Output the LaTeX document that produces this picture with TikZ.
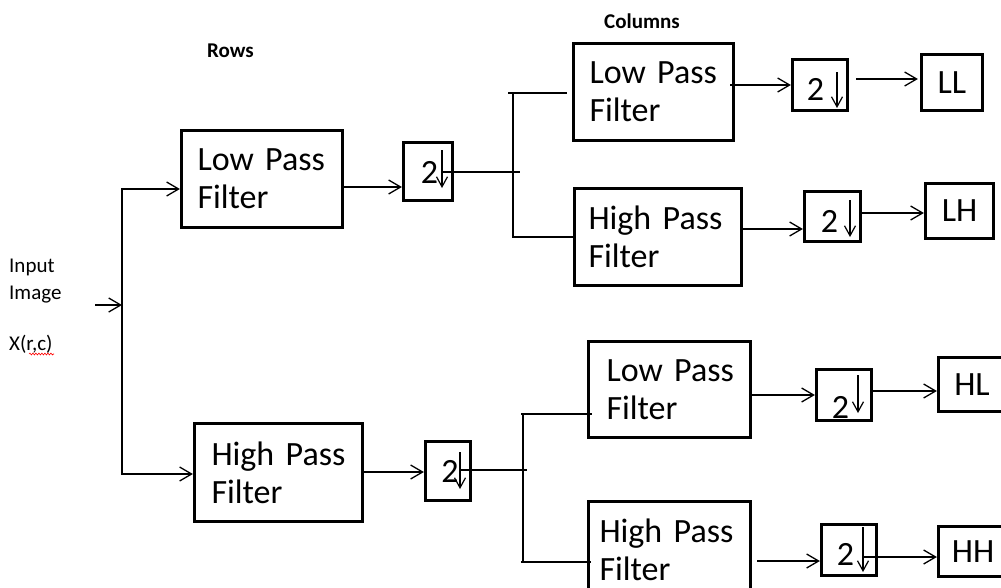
\documentclass[tikz,border=0pt]{standalone}
\usepackage{fontspec}
\setmainfont{Carlito}
\usetikzlibrary{arrows.meta,decorations.pathmorphing}
\begin{document}
\begin{tikzpicture}[x=1pt,y=-1pt,
  box/.style={draw, line width=3.2pt, font=\fontsize{34}{38}\selectfont, align=left, inner ysep=2pt, anchor=center},
  dsbox/.style={draw, line width=3.2pt, inner sep=0pt},
  outbox/.style={draw, line width=3.2pt, inner sep=0pt, font=\fontsize{34}{38}\selectfont},
  digit/.style={font=\fontsize{34}{38}\selectfont, inner sep=0pt, anchor=base},
  conn/.style={line width=1.3pt},
  arr/.style={conn, -{Straight Barb[length=12pt,width=14pt]}},
  darr/.style={line width=1.2pt, -{Straight Barb[length=10pt,width=11pt]}},
  lbl/.style={font=\fontsize{21}{25}\selectfont, inner sep=0pt, anchor=base west},
  head/.style={font=\bfseries\fontsize{21}{25}\selectfont, inner sep=0pt, anchor=base west}]
\useasboundingbox (0,0) rectangle (1001,587);
\fill[white] (0,0) rectangle (1001,587);
\clip (0,0) rectangle (1001,587);

% headings and input labels
\node[head] (rows) at (207,57) {Rows};
\node[head] (cols) at (604,28) {Columns};
\node[lbl] (in1) at (9,272) {Input};
\node[lbl] (in2) at (9,299) {Image};
\node[lbl] (in3) at (9,350) {X(r,c)};
\draw[red, line width=0.6pt, decorate, decoration={snake, amplitude=0.9pt, segment length=3pt}] (29,354) -- (54,354);

% row filters
\node[box, inner xsep=16pt, text width=129pt, minimum height=97pt] (rlpf) at (262,179) {Low~Pass\\Filter};
\node[box, inner xsep=17pt, text width=134pt, minimum height=98pt] (rhpf) at (278.5,472.5) {High~Pass\\Filter};

% row downsamplers
\node[dsbox, minimum width=49pt, minimum height=58pt] (rd1) at (428,171.5) {};
\node[dsbox, minimum width=45pt, minimum height=59pt] (rd2) at (448,471) {};
\node[digit] (rd1t) at (429.5,183) {2};
\node[digit] (rd2t) at (450,482) {2};
\coordinate (rd1a) at (442,150); \coordinate (rd1b) at (442,188);
\coordinate (rd2a) at (460,452); \coordinate (rd2b) at (460,489);
\draw[darr] (rd1a) -- (rd1b);
\draw[darr] (rd2a) -- (rd2b);

% column filters
\node[box, inner xsep=16pt, text width=128pt, minimum height=97pt] (clpf1) at (653.5,92) {Low~Pass\\Filter};
\node[box, inner xsep=14pt, text width=139pt, minimum height=97pt] (chpf1) at (658,237) {High~Pass\\Filter};
\node[box, inner xsep=18pt, text width=126pt, minimum height=96pt] (clpf2) at (669.5,389.5) {Low~Pass\\Filter};
\node[box, inner xsep=11pt, text width=140pt, minimum height=97pt] (chpf2) at (669.5,550) {High~Pass\\Filter};

% column downsamplers
\node[dsbox, minimum width=55pt, minimum height=51pt] (cd1) at (820,85) {};
\node[dsbox, minimum width=56pt, minimum height=50pt] (cd2) at (832.5,216.5) {};
\node[dsbox, minimum width=55pt, minimum height=51pt] (cd3) at (844,395) {};
\node[dsbox, minimum width=55pt, minimum height=51pt] (cd4) at (849,550) {};
\node[digit] (cd1t) at (815.5,100) {2};
\node[digit] (cd2t) at (829.5,232) {2};
\node[digit] (cd3t) at (840.5,418) {2};
\node[digit] (cd4t) at (845.5,565) {2};
\coordinate (cd1a) at (837,72);  \coordinate (cd1b) at (837,108);
\coordinate (cd2a) at (850,200); \coordinate (cd2b) at (850,237);
\coordinate (cd3a) at (858,375); \coordinate (cd3b) at (858,413);
\coordinate (cd4a) at (863,527); \coordinate (cd4b) at (863,572);
\draw[darr] (cd1a) -- (cd1b);
\draw[darr] (cd2a) -- (cd2b);
\draw[darr] (cd3a) -- (cd3b);
\draw[darr] (cd4a) -- (cd4b);

% outputs
\node[outbox, minimum width=61pt, minimum height=56pt] (LL) at (952,82.5) {LL};
\node[outbox, minimum width=68pt, minimum height=55pt] (LH) at (959.5,211) {LH};
\node[outbox, minimum width=67pt, minimum height=54pt] (HL) at (972,384.5) {HL};
\node[outbox, minimum width=69pt, minimum height=50pt] (HH) at (973,551.5) {HH};

% input connectors
\coordinate (inp) at (95,305);
\coordinate (split) at (122,305);
\draw[arr] (inp) -- (split);
\draw[arr] (split) |- (rlpf.west |- 0,189);
\draw[arr] (split) |- (rhpf.west |- 0,474);

% row filter to downsampler
\draw[arr] (rlpf.east |- 0,187) -- (rd1.west |- 0,187);
\draw[arr] (rhpf.east |- 0,472) -- (rd2.west |- 0,472);

% top split
\coordinate (j1) at (513,172);
\coordinate (sp1t) at (513,93);
\coordinate (sp1b) at (513,237);
\draw[conn] (rd1b |- j1) -- ([xshift=7pt]j1);
\draw[conn] (sp1t) -- (sp1b);
\draw[conn] ([xshift=-5pt]sp1t) -- ([xshift=-5pt]clpf1.west |- sp1t);
\draw[conn] ([xshift=-1pt]sp1b) -- ([xshift=3pt]chpf1.west |- sp1b);

% bottom split
\coordinate (j2) at (523,470);
\coordinate (sp2t) at (523,414);
\coordinate (sp2b) at (523,562);
\draw[conn] (rd2b |- j2) -- ([xshift=4pt]j2);
\draw[conn] (sp2t) -- (sp2b);
\draw[conn] ([xshift=-2pt]sp2t) -- ([xshift=5pt]clpf2.west |- sp2t);
\draw[conn] ([xshift=-2pt]sp2b) -- ([xshift=4pt]chpf2.west |- sp2b);

% column filters to downsamplers to outputs
\draw[arr] ([xshift=-5pt]clpf1.east |- 0,85) -- (cd1.west |- 0,85);
\draw[arr] ([xshift=7pt]cd1.east |- 0,79) -- ([xshift=-2pt]LL.west |- 0,79);
\draw[arr] ([xshift=-3pt]chpf1.east |- 0,229) -- (cd2.west |- 0,229);
\draw[arr] (cd2.east |- 0,213) -- (LH.west |- 0,213);
\draw[arr] (clpf2.east |- 0,395) -- (cd3.west |- 0,395);
\draw[arr] (cd3.east |- 0,391) -- (HL.west |- 0,391);
\draw[arr] ([xshift=5pt]chpf2.east |- 0,561) -- (cd4.west |- 0,561);
\draw[arr] (cd4b |- 0,557) -- (HH.west |- 0,557);
\end{tikzpicture}
\end{document}
